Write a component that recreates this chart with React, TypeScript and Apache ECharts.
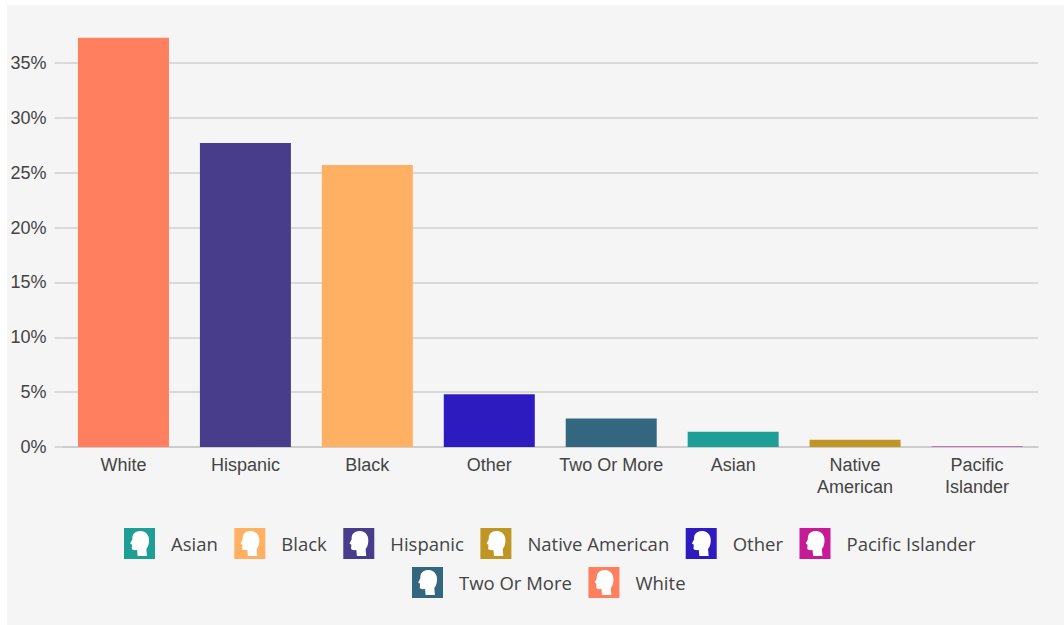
import React, { useEffect, useRef } from "react";
import * as echarts from "echarts";

const groups = ["White", "Hispanic", "Black", "Other", "Two Or More", "Asian", "Native American", "Pacific Islander"];
const tickLabels = ["White", "Hispanic", "Black", "Other", "Two Or More", "Asian", "Native\nAmerican", "Pacific\nIslander"];
const shares = [37.3, 27.7, 25.7, 4.8, 2.6, 1.4, 0.65, 0.05];
const colors = ["#ff7f5f", "#483d8b", "#ffb063", "#2d1bc0", "#33667f", "#1f9e96", "#bf9624", "#c71a96"];
const percentTicks = [0, 5, 10, 15, 20, 25, 30, 35];
const legendRowOne = ["Asian", "Black", "Hispanic", "Native American", "Other", "Pacific Islander"];
const legendRowTwo = ["Two Or More", "White"];

// Square swatch with a profile-shaped hole; the hole shows the white plate placed behind it.
const headIcon =
  "path://M0 0H100V100H0Z M52 10C34 10 26 22 27 36L20 50L26 54L25 66C26 72 34 72 42 71L44 90L74 90L72 68C80 58 82 44 80 32C77 18 66 10 52 10Z";
const plateOrigins = [
  [124, 528], [234, 528], [344, 528], [480, 528], [686, 528], [799, 528], [412, 567], [587, 567],
];

const labelFont = "'Liberation Sans', Arial, sans-serif";
const legendFont = "'Open Sans', sans-serif";

export default function App() {
  const ref = useRef<HTMLDivElement>(null);
  useEffect(() => {
    const chart = echarts.init(ref.current!, undefined, { renderer: "svg" });
    const legendBase = {
      orient: "horizontal",
      itemWidth: 31,
      itemHeight: 31,
      itemGap: 16.5,
      selectedMode: false,
      padding: 0,
      textStyle: { fontFamily: legendFont, fontSize: 18.5, color: "#444", padding: [0, 0, 3, 11] },
    };
    chart.setOption({
      animation: false,
      backgroundColor: "#ffffff",
      graphic: [
        { type: "rect", z: -10, silent: true, shape: { x: 7, y: 5, width: 1057, height: 620 }, style: { fill: "#f5f5f5" } },
        ...plateOrigins.map(([x, y]) => ({
          type: "rect",
          z: -9,
          silent: true,
          shape: { x: x + 3, y: y + 2, width: 25, height: 27 },
          style: { fill: "#ffffff" },
        })),
      ],
      grid: { left: 62.5, right: 26, top: 8, bottom: 178, containLabel: false },
      legend: [
        { ...legendBase, left: 124, top: 528, data: legendRowOne.map((name) => ({ name, icon: headIcon })) },
        { ...legendBase, left: 412, top: 567, data: legendRowTwo.map((name) => ({ name, icon: headIcon })) },
      ],
      xAxis: {
        type: "category",
        data: tickLabels,
        axisTick: { show: false },
        axisLine: { lineStyle: { color: "#c8c8c8", width: 1.5 } },
        axisLabel: { fontFamily: labelFont, fontSize: 18, color: "#444", margin: 7, lineHeight: 22, interval: 0 },
      },
      yAxis: {
        type: "value",
        min: 0,
        max: 40,
        interval: 5,
        axisLine: { show: false },
        axisTick: { show: true, length: 8, customValues: percentTicks, lineStyle: { color: "#d9d9d9", width: 2 } },
        splitLine: { lineStyle: { color: "#d9d9d9", width: 2 } },
        axisLabel: {
          customValues: percentTicks,
          formatter: "{value}%",
          fontFamily: labelFont,
          fontSize: 18,
          color: "#444",
          margin: 16,
        },
      },
      series: groups.map((name, i) => ({
        name,
        type: "bar",
        stack: "share",
        barWidth: 91,
        itemStyle: { color: colors[i] },
        data: shares.map((v, j) => (j === i ? v : null)),
      })),
    });
    return () => chart.dispose();
  }, []);
  return (
    <div style={{ position: "fixed", left: 0, top: 0, width: 1064, height: 625 }}>
      <div ref={ref} style={{ width: 1064, height: 625 }} />
    </div>
  );
}
